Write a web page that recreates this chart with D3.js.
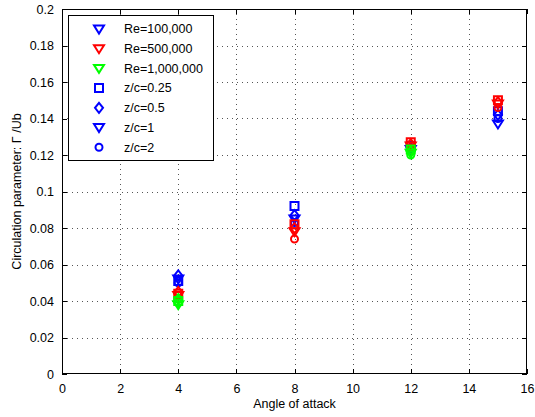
<!DOCTYPE html>
<html>
<head>
<meta charset="utf-8">
<script src="https://cdn.jsdelivr.net/npm/d3@7"></script>
<style>
  html, body { margin: 0; padding: 0; background: #fff; }
  svg { display: block; font-family: "Liberation Sans", Arial, sans-serif; }
</style>
</head>
<body>
<svg id="chart" width="535" height="417"></svg>
<script>
// Angles of attack at which circulation was measured
const angles = [4, 8, 12, 15];
const anglesHighRe = [4, 12];

// Circulation parameter, one array per spanwise station (z/c), for each Reynolds number
const re100k_zc025 = [0.051, 0.092, 0.125, 0.144];
const re100k_zc05  = [0.054, 0.087, 0.124, 0.142];
const re100k_zc1   = [0.052, 0.085, 0.123, 0.137];
const re100k_zc2   = [0.050, 0.083, 0.122, 0.140];

const re500k_zc025 = [0.044, 0.082, 0.127, 0.150];
const re500k_zc05  = [0.045, 0.080, 0.126, 0.149];
const re500k_zc1   = [0.043, 0.078, 0.125, 0.148];
const re500k_zc2   = [0.041, 0.074, 0.124, 0.146];

const re1m_zc025 = [0.040, 0.123];
const re1m_zc05  = [0.041, 0.122];
const re1m_zc1   = [0.038, 0.121];
const re1m_zc2   = [0.039, 0.120];

const reLabels = ["Re=100,000", "Re=500,000", "Re=1,000,000"];
const zcLabels = ["z/c=0.25", "z/c=0.5", "z/c=1", "z/c=2"];
const xTicks = [0, 2, 4, 6, 8, 10, 12, 14, 16];
const yTicks = [0, 0.02, 0.04, 0.06, 0.08, 0.1, 0.12, 0.14, 0.16, 0.18, 0.2];

const reColors = ["#0000ff", "#ff0000", "#00ff00"];
const zcShapes = ["square", "diamond", "triangle", "circle"];

const series = [
  { color: reColors[0], x: angles, ys: [re100k_zc025, re100k_zc05, re100k_zc1, re100k_zc2] },
  { color: reColors[1], x: angles, ys: [re500k_zc025, re500k_zc05, re500k_zc1, re500k_zc2] },
  { color: reColors[2], x: anglesHighRe, ys: [re1m_zc025, re1m_zc05, re1m_zc1, re1m_zc2] }
];

const FS = 12.5;
const svg = d3.select("#chart");
const L = 62, R = 527, T = 9, B = 374;

const x = d3.scaleLinear().domain([0, 16]).range([L, R]);
const y = d3.scaleLinear().domain([0, 0.2]).range([B, T]);

// Dotted grid
const grid = svg.append("g").attr("stroke", "#555").attr("stroke-width", 1)
  .attr("stroke-dasharray", "1,4").attr("shape-rendering", "crispEdges");
xTicks.slice(1, -1).forEach(t => {
  grid.append("line").attr("x1", Math.round(x(t)) + 0.5).attr("x2", Math.round(x(t)) + 0.5)
    .attr("y1", T).attr("y2", B);
});
yTicks.slice(1, -1).forEach(t => {
  grid.append("line").attr("y1", Math.round(y(t)) + 0.5).attr("y2", Math.round(y(t)) + 0.5)
    .attr("x1", L).attr("x2", R);
});

// Axes with inward ticks on all four sides
const fmtY = d => d === 0 ? "0" : d3.format("")(+d.toFixed(2));
const axB = svg.append("g").attr("transform", `translate(0,${B})`)
  .call(d3.axisBottom(x).tickValues(xTicks).tickSizeInner(-5).tickSizeOuter(0).tickPadding(10));
const axT = svg.append("g").attr("transform", `translate(0,${T})`)
  .call(d3.axisTop(x).tickValues(xTicks).tickSizeInner(-5).tickSizeOuter(0).tickFormat(""));
const axL = svg.append("g").attr("transform", `translate(${L},0)`)
  .call(d3.axisLeft(y).tickValues(yTicks).tickSizeInner(-5).tickSizeOuter(0).tickPadding(8).tickFormat(fmtY));
const axR = svg.append("g").attr("transform", `translate(${R},0)`)
  .call(d3.axisRight(y).tickValues(yTicks).tickSizeInner(-5).tickSizeOuter(0).tickFormat(""));
[axB, axT, axL, axR].forEach(g => {
  g.select(".domain").remove();
  g.selectAll("line").attr("stroke", "#000").attr("shape-rendering", "crispEdges");
  g.selectAll("text").attr("font-size", FS).attr("fill", "#000")
    .attr("font-family", "'Liberation Sans', Arial, sans-serif");
});

// Plot frame
svg.append("rect").attr("x", L + 0.5).attr("y", T + 0.5)
  .attr("width", R - L - 1).attr("height", B - T - 1)
  .attr("fill", "none").attr("stroke", "#000").attr("shape-rendering", "crispEdges");

// Marker paths
function markerPath(shape) {
  switch (shape) {
    case "square": return "M-4,-4H4V4H-4Z";
    case "diamond": return "M0,-5L4,0L0,5L-4,0Z";
    case "triangle": return "M-5,-3.5H5L0,4.5Z";
    case "circle": return "M3.5,0A3.5,3.5 0 1 1 -3.5,0A3.5,3.5 0 1 1 3.5,0Z";
  }
}

const marks = svg.append("g");
series.forEach(s => {
  s.ys.forEach((vals, i) => {
    marks.selectAll(null).data(vals).enter().append("path")
      .attr("d", markerPath(zcShapes[i]))
      .attr("transform", (v, j) => `translate(${x(s.x[j])},${y(v)})`)
      .attr("fill", "none").attr("stroke", s.color).attr("stroke-width", 2);
  });
});

// Legend
const lg = svg.append("g");
lg.append("rect").attr("x", 68.5).attr("y", 15.5).attr("width", 145).attr("height", 145)
  .attr("fill", "#fff").attr("stroke", "#000").attr("shape-rendering", "crispEdges");
const legendItems = [
  ...reLabels.map((t, i) => ({ text: t, color: reColors[i], shape: "triangle" })),
  ...zcLabels.map((t, i) => ({ text: t, color: reColors[0], shape: zcShapes[i] }))
];
legendItems.forEach((d, i) => {
  const cy = 29 + i * 19.7;
  lg.append("path").attr("d", markerPath(d.shape))
    .attr("transform", `translate(99,${cy})`)
    .attr("fill", "none").attr("stroke", d.color).attr("stroke-width", 2);
  lg.append("text").attr("x", 124).attr("y", cy).attr("dy", "0.35em")
    .attr("font-size", FS).attr("fill", "#000").text(d.text);
});

// Axis titles
svg.append("text").attr("x", x(8)).attr("y", 408).attr("text-anchor", "middle")
  .attr("font-size", FS).attr("fill", "#000").text("Angle of attack");
svg.append("text").attr("transform", `translate(21,${(T + B) / 2}) rotate(-90)`)
  .attr("text-anchor", "middle").attr("font-size", FS).attr("fill", "#000")
  .text("Circulation parameter: Γ /Ub");
</script>
</body>
</html>
